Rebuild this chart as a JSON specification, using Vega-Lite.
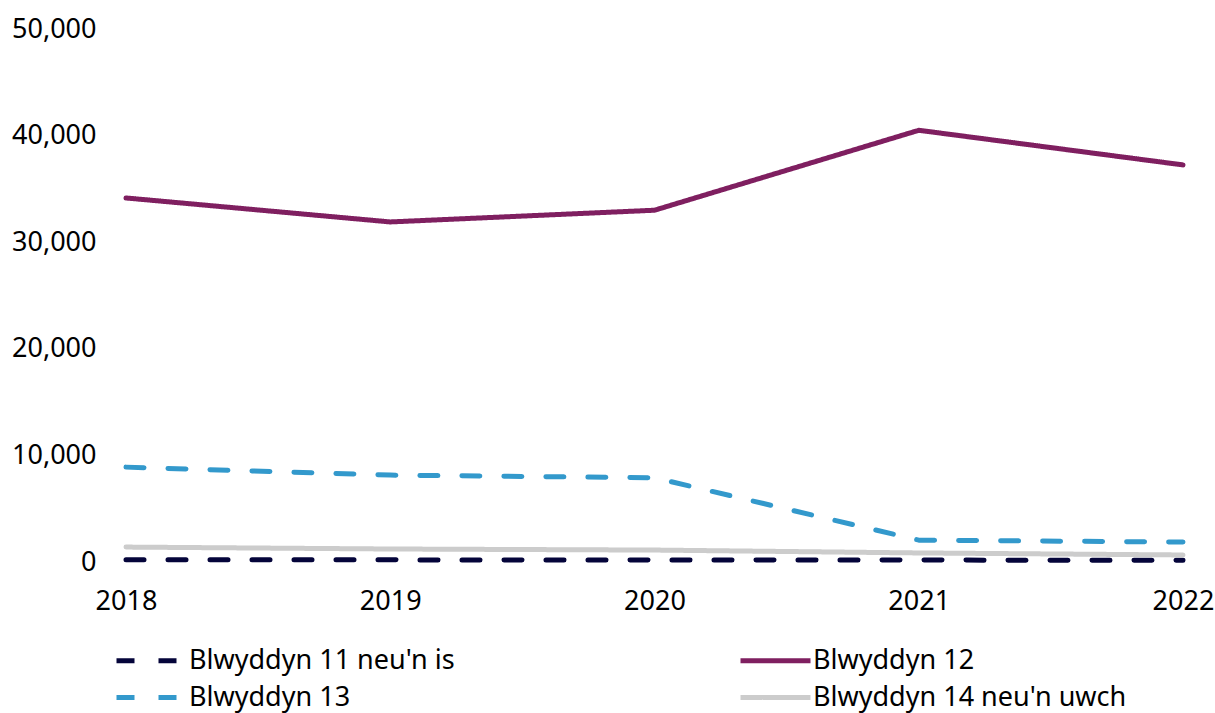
{
  "$schema": "https://vega.github.io/schema/vega-lite/v6.json",
  "width": 1057,
  "height": 533,
  "autosize": {"type": "none"},
  "padding": {"left": 126, "top": 29, "right": 32, "bottom": 151},
  "background": "white",
  "config": {
    "font": "Noto Sans",
    "view": {"stroke": null}
  },
  "data": {
    "values": [
      {"year": "2018", "series": "Blwyddyn 11 neu'n is", "value": 200},
      {"year": "2019", "series": "Blwyddyn 11 neu'n is", "value": 200},
      {"year": "2020", "series": "Blwyddyn 11 neu'n is", "value": 190},
      {"year": "2021", "series": "Blwyddyn 11 neu'n is", "value": 180},
      {"year": "2022", "series": "Blwyddyn 11 neu'n is", "value": 160},
      {"year": "2018", "series": "Blwyddyn 12", "value": 34150},
      {"year": "2019", "series": "Blwyddyn 12", "value": 31900},
      {"year": "2020", "series": "Blwyddyn 12", "value": 33000},
      {"year": "2021", "series": "Blwyddyn 12", "value": 40500},
      {"year": "2022", "series": "Blwyddyn 12", "value": 37250},
      {"year": "2018", "series": "Blwyddyn 13", "value": 8900},
      {"year": "2019", "series": "Blwyddyn 13", "value": 8150},
      {"year": "2020", "series": "Blwyddyn 13", "value": 7900},
      {"year": "2021", "series": "Blwyddyn 13", "value": 2050},
      {"year": "2022", "series": "Blwyddyn 13", "value": 1870},
      {"year": "2018", "series": "Blwyddyn 14 neu'n uwch", "value": 1400},
      {"year": "2019", "series": "Blwyddyn 14 neu'n uwch", "value": 1220},
      {"year": "2020", "series": "Blwyddyn 14 neu'n uwch", "value": 1120},
      {"year": "2021", "series": "Blwyddyn 14 neu'n uwch", "value": 850},
      {"year": "2022", "series": "Blwyddyn 14 neu'n uwch", "value": 660}
    ]
  },
  "mark": {"type": "line", "strokeWidth": 5, "strokeCap": "round", "strokeJoin": "round", "interpolate": "linear"},
  "encoding": {
    "x": {
      "field": "year", "type": "ordinal",
      "scale": {"type": "point", "padding": 0},
      "axis": {"title": null, "labelAngle": 0, "domain": false, "ticks": false, "labelFontSize": 27, "labelColor": "#000000", "labelPadding": 26, "labelFont": "Noto Sans"}
    },
    "y": {
      "field": "value", "type": "quantitative",
      "scale": {"domain": [0, 50000], "nice": false},
      "axis": {"title": null, "values": [0, 10000, 20000, 30000, 40000, 50000], "format": ",d", "domain": false, "ticks": false, "grid": false, "labelFontSize": 27, "labelColor": "#000000", "labelPadding": 30, "labelFont": "Noto Sans"}
    },
    "color": {
      "field": "series", "type": "nominal",
      "scale": {
        "domain": ["Blwyddyn 11 neu'n is", "Blwyddyn 12", "Blwyddyn 13", "Blwyddyn 14 neu'n uwch"],
        "range": ["#04043a", "#7f1f60", "#3399cc", "#cccccc"]
      },
      "legend": {
        "title": null, "orient": "none", "legendX": -23, "legendY": 618,
        "direction": "horizontal", "columns": 2, "columnPadding": 272, "rowPadding": 9,
        "symbolType": "M0,0H10", "symbolSize": 196, "symbolStrokeWidth": 5, "symbolFillColor": "transparent",
        "labelFontSize": 27, "labelColor": "#000000", "labelOffset": 59, "labelFont": "Noto Sans", "labelLimit": 400
      }
    },
    "strokeDash": {
      "field": "series", "type": "nominal",
      "scale": {
        "domain": ["Blwyddyn 11 neu'n is", "Blwyddyn 12", "Blwyddyn 13", "Blwyddyn 14 neu'n uwch"],
        "range": [[18, 24], [1, 0], [18, 24], [1, 0]]
      },
      "legend": {
        "title": null, "orient": "none", "legendX": -23, "legendY": 618,
        "direction": "horizontal", "columns": 2, "columnPadding": 272, "rowPadding": 9,
        "symbolType": "M0,0H10", "symbolSize": 196, "symbolStrokeWidth": 5, "symbolFillColor": "transparent",
        "labelFontSize": 27, "labelColor": "#000000", "labelOffset": 59, "labelFont": "Noto Sans", "labelLimit": 400
      }
    }
  }
}
